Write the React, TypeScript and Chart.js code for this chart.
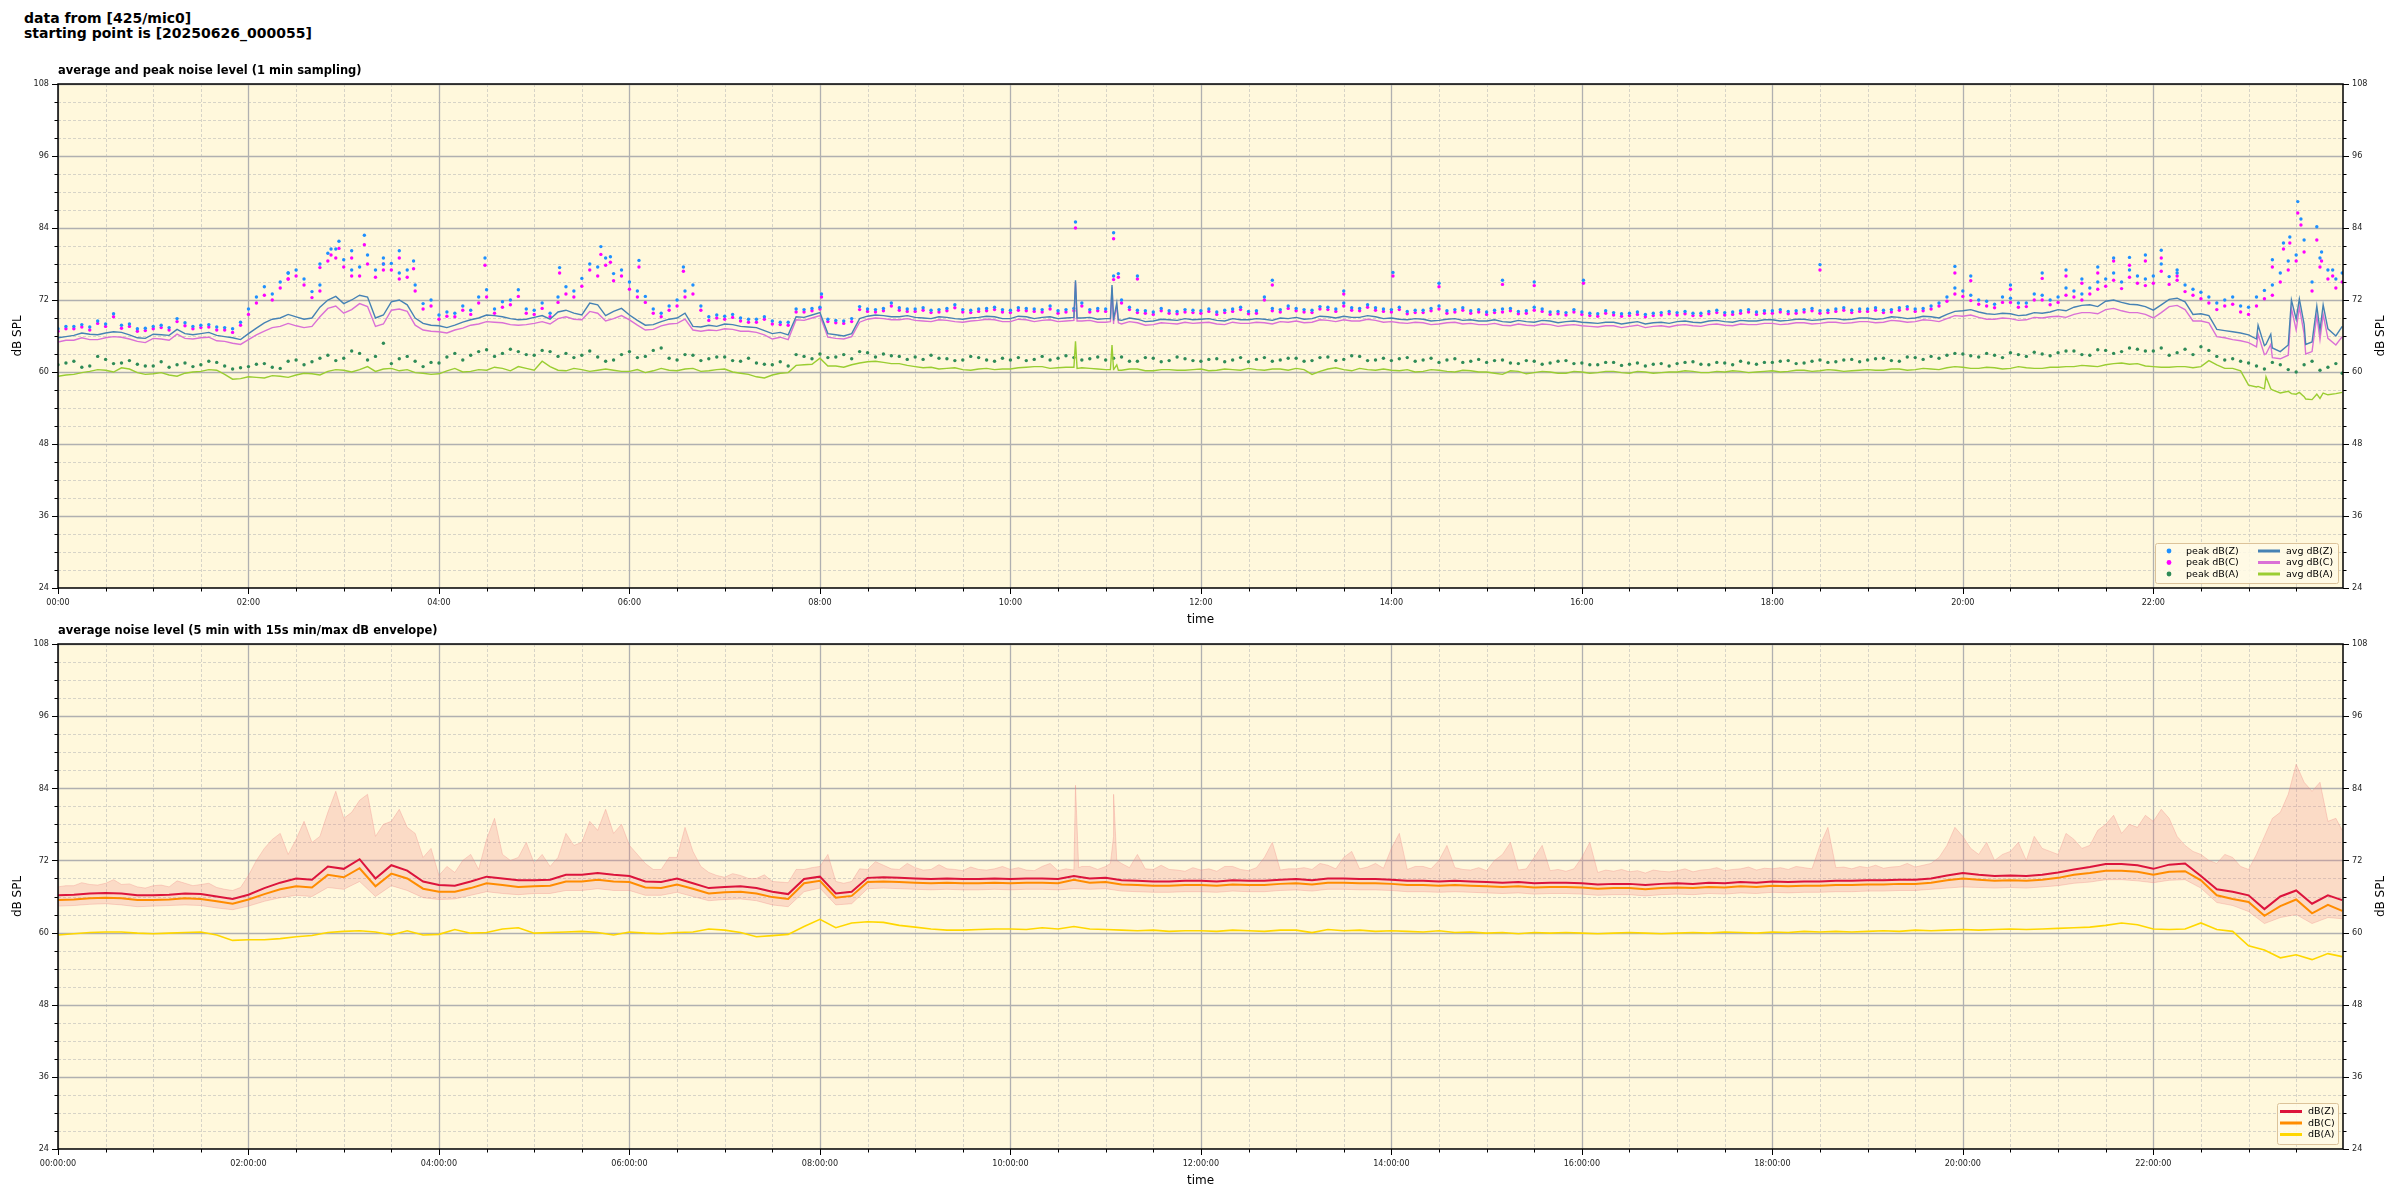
import { useEffect, useRef } from 'react';
import { Chart, registerables } from 'chart.js';

Chart.register(...registerables);

// ---------- sampling grid (minutes since 00:00) ----------
// "grid" arrays: samples at hh:m0 (last one at 23:59); "mid" arrays: samples at hh:m5
const STEP = 10;
const LAST_MIN = 1439;
const X_MAX = 1439.5;

// ---------- top chart: 1-minute average levels ----------
const avgZ = [
  65.7, 66.1, 66.3, 66.5, 66.6, 65.7,
  66.3, 66.1, 66.4, 66.4, 66.1, 65.7,
  66.4, 68.2, 69.0, 69.2, 69.0, 72.0,
  71.4, 72.8, 69.0, 71.7, 71.2, 68.1,
  67.7, 67.8, 68.7, 69.5, 69.2, 68.7,
  69.1, 68.8, 70.3, 69.5, 71.2, 70.1,
  69.5, 67.8, 68.4, 69.0, 67.6, 67.8,
  68.0, 67.6, 67.4, 66.4, 66.2, 69.1,
  69.9, 66.2, 66.4, 69.3, 69.4, 69.2,
  69.1, 68.9, 69.1, 68.8, 69.1, 69.2,
  68.9, 69.2, 69.1, 68.9, 69.1, 69.1,
  68.9, 68.6, 68.8, 68.5, 68.7, 68.9,
  68.8, 68.6, 68.9, 68.7, 68.8, 69.0,
  69.1, 68.9, 69.2, 69.3, 69.1, 69.2,
  69.0, 68.7, 68.8, 68.6, 68.9, 68.7,
  68.5, 68.4, 68.6, 68.3, 68.5, 68.4,
  68.3, 68.1, 68.3, 68.2, 68.0, 68.3,
  68.4, 68.3, 68.5, 68.4, 68.6, 68.5,
  68.7, 68.6, 68.8, 68.7, 68.9, 68.8,
  69.0, 68.9, 69.1, 69.0, 69.2, 69.6,
  70.2, 70.0, 69.6, 69.7, 69.5, 69.8,
  70.4, 70.8, 71.2, 71.8, 71.6, 71.2,
  70.3, 72.1, 71.7, 69.7, 67.1, 66.7,
  66.2, 64.4, 63.4, 68.8, 65.0, 67.2,
  67.6,
];
const avgZMid = [
  65.9, 66.5, 66.2, 66.7, 66.2, 65.6,
  66.2, 67.1, 66.2, 66.6, 65.9, 65.4,
  67.3, 68.8, 69.6, 68.8, 70.8, 72.6,
  72.0, 72.5, 69.5, 72.0, 69.0, 67.8,
  67.4, 68.3, 69.0, 69.4, 68.9, 68.8,
  69.4, 70.0, 69.8, 71.5, 69.4, 70.6,
  68.6, 67.9, 68.8, 69.8, 67.5, 67.6,
  67.9, 67.5, 66.9, 66.6, 69.2, 69.5,
  66.4, 66.0, 68.9, 69.5, 69.2, 69.4,
  69.0, 69.2, 68.9, 69.0, 69.3, 68.9,
  69.3, 68.9, 69.2, 69.0, 69.0, 68.8,
  68.6, 69.0, 68.4, 68.8, 68.6, 68.7,
  68.9, 68.5, 68.7, 68.9, 68.6, 68.9,
  68.8, 69.3, 69.0, 69.1, 69.4, 68.9,
  68.8, 68.9, 68.5, 68.8, 68.6, 68.5,
  68.7, 68.3, 68.4, 68.6, 68.2, 68.5,
  68.2, 68.3, 68.0, 68.4, 68.2, 68.1,
  68.5, 68.2, 68.6, 68.3, 68.5, 68.7,
  68.5, 68.8, 68.6, 68.9, 68.7, 69.0,
  68.8, 69.2, 68.9, 69.3, 69.0, 70.1,
  70.4, 69.7, 69.8, 69.4, 69.9, 70.0,
  70.2, 71.1, 70.9, 72.0, 71.3, 70.9,
  71.2, 72.3, 69.6, 69.4, 66.9, 66.5,
  65.5, 64.0, 64.5, 68.0, 67.0, 66.0,
];
const avgC = [
  65.0, 65.3, 65.4, 65.7, 65.8, 65.1,
  65.6, 65.3, 65.6, 65.7, 65.2, 64.8,
  65.4, 66.8, 67.6, 67.7, 67.6, 70.6,
  69.8, 71.4, 67.6, 70.3, 70.1, 67.0,
  66.7, 67.0, 67.8, 68.4, 68.2, 67.8,
  68.1, 68.0, 69.2, 68.7, 69.8, 68.9,
  68.7, 67.0, 67.7, 68.1, 67.0, 67.0,
  67.2, 66.8, 66.6, 65.5, 65.4, 68.6,
  69.4, 65.6, 65.9, 68.8, 68.9, 68.7,
  68.6, 68.4, 68.6, 68.3, 68.6, 68.7,
  68.4, 68.7, 68.6, 68.4, 68.6, 68.6,
  68.3, 68.0, 68.2, 67.9, 68.1, 68.3,
  68.2, 68.0, 68.3, 68.1, 68.2, 68.4,
  68.5, 68.3, 68.6, 68.7, 68.5, 68.6,
  68.4, 68.1, 68.2, 68.0, 68.3, 68.1,
  67.9, 67.8, 68.0, 67.7, 67.9, 67.8,
  67.7, 67.5, 67.7, 67.6, 67.4, 67.7,
  67.8, 67.7, 67.9, 67.8, 68.0, 67.9,
  68.1, 68.0, 68.2, 68.1, 68.3, 68.2,
  68.4, 68.3, 68.5, 68.4, 68.6, 68.9,
  69.3, 69.1, 68.8, 68.9, 68.7, 69.0,
  69.3, 69.6, 69.9, 70.4, 70.2, 69.9,
  69.0, 70.9, 70.4, 68.5, 65.9, 65.4,
  64.9, 62.9, 62.2, 67.0, 63.4, 65.6,
  65.9,
];
const avgCMid = [
  65.3, 65.7, 65.4, 65.9, 65.5, 64.9,
  65.5, 66.3, 65.5, 65.8, 65.1, 64.6,
  66.2, 67.4, 68.1, 67.4, 69.2, 71.0,
  70.4, 70.9, 68.0, 70.5, 67.8, 66.8,
  66.5, 67.3, 68.0, 68.3, 67.9, 67.9,
  68.4, 68.9, 68.8, 70.1, 68.5, 69.4,
  67.8, 67.1, 68.0, 68.8, 66.8, 66.9,
  67.1, 66.8, 66.2, 65.8, 68.7, 69.0,
  65.8, 65.5, 68.3, 69.0, 68.7, 68.9,
  68.5, 68.7, 68.4, 68.5, 68.8, 68.4,
  68.8, 68.4, 68.7, 68.5, 68.5, 68.3,
  68.0, 68.4, 67.8, 68.2, 68.0, 68.1,
  68.3, 67.9, 68.1, 68.3, 68.0, 68.3,
  68.2, 68.7, 68.4, 68.5, 68.8, 68.3,
  68.2, 68.3, 67.9, 68.2, 68.0, 67.9,
  68.1, 67.7, 67.8, 68.0, 67.6, 67.9,
  67.6, 67.7, 67.4, 67.8, 67.6, 67.5,
  67.9, 67.6, 68.0, 67.7, 67.9, 68.1,
  67.9, 68.2, 68.0, 68.3, 68.1, 68.4,
  68.2, 68.6, 68.3, 68.7, 68.4, 69.4,
  69.5, 68.8, 69.0, 68.6, 69.1, 69.2,
  69.1, 69.9, 69.7, 70.6, 69.9, 69.6,
  69.9, 71.1, 68.5, 68.2, 65.7, 65.2,
  64.2, 62.4, 62.8, 66.4, 65.4, 64.5,
];
const avgA = [
  59.3, 59.6, 60.1, 60.3, 60.7, 59.9,
  59.7, 59.5, 59.8, 60.1, 60.3, 58.8,
  59.2, 59.0, 59.3, 59.5, 59.7, 60.1,
  60.3, 60.4, 60.1, 60.6, 60.4, 59.8,
  59.7, 60.6, 60.1, 60.3, 60.6, 60.9,
  60.3, 60.9, 60.2, 60.4, 60.3, 60.3,
  60.1, 59.9, 60.6, 60.2, 60.6, 60.2,
  60.5, 59.8, 59.2, 59.5, 59.9, 61.2,
  62.3, 61.0, 61.2, 61.7, 61.6, 61.4,
  60.9, 60.8, 60.6, 60.4, 60.5, 60.4,
  60.5, 60.8, 60.9, 60.7, 60.8, 60.6,
  60.4, 60.3, 60.5, 60.2, 60.4, 60.3,
  60.5, 60.3, 60.4, 60.6, 60.3, 60.5,
  60.6, 59.6, 60.5, 60.4, 60.6, 60.3,
  60.3, 60.4, 60.1, 60.3, 60.0, 60.2,
  60.0, 59.6, 60.1, 59.9, 60.0, 59.8,
  60.0, 59.9, 60.1, 59.8, 60.0, 59.9,
  60.0, 60.1, 59.9, 60.0, 60.1, 60.0,
  60.2, 60.1, 60.3, 60.2, 60.3, 60.2,
  60.4, 60.3, 60.5, 60.4, 60.5, 60.7,
  60.8, 60.6, 60.7, 60.6, 60.7, 60.6,
  60.8, 60.9, 61.0, 61.2, 61.5, 61.4,
  60.9, 60.8, 60.9, 60.9, 61.2, 60.6,
  57.8, 57.2, 56.5, 56.3, 55.4, 56.2,
  56.6,
];
const avgAMid = [
  59.5, 59.9, 60.4, 60.0, 60.5, 59.6,
  59.9, 59.3, 60.0, 60.4, 59.6, 58.9,
  59.1, 59.4, 59.1, 59.8, 59.5, 60.4,
  60.0, 60.9, 60.5, 60.2, 59.9, 59.6,
  60.2, 60.0, 60.4, 60.8, 60.2, 60.6,
  61.8, 60.3, 60.6, 60.1, 60.5, 60.1,
  60.4, 60.2, 60.3, 60.5, 60.1, 60.4,
  60.0, 59.6, 59.0, 59.8, 61.1, 61.3,
  61.0, 60.8, 61.5, 61.8, 61.4, 61.1,
  60.7, 60.5, 60.7, 60.3, 60.6, 60.5,
  60.7, 60.9, 60.6, 60.8, 60.7, 60.5,
  60.3, 60.5, 60.2, 60.4, 60.3, 60.4,
  60.2, 60.5, 60.3, 60.4, 60.5, 60.3,
  60.4, 60.1, 60.7, 60.2, 60.4, 60.5,
  60.2, 60.0, 60.4, 60.1, 60.3, 60.0,
  59.8, 60.2, 59.7, 60.1, 59.8, 60.1,
  59.8, 60.1, 59.9, 60.1, 59.8, 60.0,
  60.2, 59.9, 60.1, 60.2, 59.9, 60.1,
  60.0, 60.3, 60.1, 60.4, 60.1, 60.3,
  60.3, 60.5, 60.3, 60.6, 60.4, 60.9,
  60.6, 60.8, 60.5, 60.9, 60.6, 60.8,
  60.9, 61.1, 60.9, 61.4, 61.3, 61.0,
  60.8, 60.9, 60.7, 61.9, 60.6, 60.2,
  57.5, 57.0, 56.8, 55.9, 55.6, 56.4,
];
// short spikes of the 1-minute averages (minute, Z, C, A)
const spikeMin = [641, 642, 663, 664, 665, 667, 668, 1386, 1391, 1394, 1407, 1412, 1416, 1423, 1427];
const spikeZ = [75.3, 69.0, 68.9, 74.5, 68.8, 71.5, 68.7, 67.8, 64.6, 66.3, 72.0, 72.2, 64.6, 71.0, 71.2];
const spikeC = [75.0, 68.5, 68.4, 74.1, 68.3, 71.0, 68.2, 66.3, 63.0, 64.6, 70.6, 70.8, 63.0, 69.4, 69.6];
const spikeA = [65.1, 60.6, 60.4, 64.5, 60.4, 61.2, 60.3, 57.6, 59.2, 57.2, 56.4, 56.6, 55.5, 56.3, 56.5];

// ---------- top chart: peak levels ----------
const peakZ = [
  67.2, 67.6, 67.5, 68.0, 67.8, 67.2,
  67.6, 67.4, 68.2, 67.8, 67.5, 67.2,
  70.5, 74.2, 75.0, 77.0, 73.4, 79.8,
  78.7, 77.5, 77.0, 78.1, 77.0, 71.4,
  69.5, 69.8, 70.3, 73.7, 71.7, 73.7,
  70.3, 69.8, 74.2, 75.6, 77.5, 76.4,
  75.0, 72.6, 69.8, 72.0, 74.5, 69.2,
  69.3, 69.0, 68.8, 68.5, 68.3, 70.4,
  70.8, 68.6, 68.9, 70.5, 70.6, 70.7,
  70.5, 70.3, 70.6, 70.4, 70.5, 70.8,
  70.3, 70.6, 70.4, 70.2, 70.6, 70.4,
  70.5, 72.0, 70.3, 70.0, 70.2, 70.4,
  70.2, 70.0, 70.5, 70.1, 72.5, 70.4,
  70.6, 70.3, 70.8, 71.5, 70.6, 70.7,
  70.4, 70.1, 70.3, 71.0, 70.4, 70.2,
  70.0, 70.5, 70.1, 70.8, 70.0, 69.9,
  70.0, 69.7, 69.9, 69.8, 69.6, 69.9,
  69.9, 69.8, 70.1, 69.9, 70.2, 70.0,
  70.2, 70.1, 70.4, 70.2, 70.5, 70.3,
  70.5, 70.3, 70.7, 70.5, 71.0, 72.5,
  73.5, 72.0, 71.3, 72.3, 71.5, 72.8,
  72.5, 73.5, 74.0, 75.5, 75.0, 76.0,
  76.0, 75.9, 74.5, 73.3, 71.5, 72.5,
  70.8, 73.6, 76.5, 79.5, 75.0, 77.0,
  76.5,
];
const peakZMid = [
  67.6, 67.9, 68.5, 69.7, 68.0, 67.3,
  67.8, 68.9, 67.6, 67.9, 67.4, 68.3,
  72.5, 73.0, 76.5, 75.5, 74.5, 80.5,
  77.0, 79.5, 78.0, 76.5, 74.5, 72.0,
  70.0, 71.0, 72.5, 70.5, 72.0, 70.5,
  71.5, 72.5, 73.5, 78.0, 79.0, 77.0,
  73.5, 70.5, 71.0, 73.5, 71.0, 69.5,
  69.6, 68.8, 69.2, 68.3, 70.5, 70.6,
  68.8, 68.5, 70.9, 70.4, 71.5, 70.5,
  70.7, 70.4, 71.2, 70.3, 70.6, 70.4,
  70.7, 70.5, 71.0, 70.4, 71.5, 70.6,
  76.0, 70.8, 70.2, 70.6, 70.1, 70.3,
  70.5, 70.3, 70.8, 70.2, 70.6, 71.0,
  70.4, 70.9, 70.5, 70.7, 71.2, 70.5,
  70.8, 70.3, 70.6, 70.2, 70.7, 70.4,
  70.3, 70.6, 70.2, 70.5, 70.1, 70.4,
  69.8, 70.2, 69.7, 70.0, 69.8, 70.1,
  70.1, 69.8, 70.3, 70.0, 70.4, 70.2,
  70.4, 70.2, 70.6, 70.3, 70.7, 70.5,
  70.7, 70.4, 70.9, 70.6, 71.5, 74.0,
  72.8, 71.8, 72.5, 71.5, 73.0, 72.0,
  74.0, 73.0, 75.0, 76.5, 77.0, 75.5,
  78.0, 76.5, 73.8, 72.5, 72.0, 71.0,
  72.5, 74.5, 78.5, 82.0, 79.0, 75.5,
];
const peakC = [
  66.8, 67.2, 67.0, 67.6, 67.3, 66.8,
  67.2, 67.0, 67.7, 67.4, 67.0, 66.6,
  69.6, 72.8, 74.0, 76.0, 72.4, 78.5,
  77.5, 76.0, 75.8, 77.0, 75.8, 70.5,
  68.8, 69.2, 69.6, 72.5, 70.8, 72.6,
  69.6, 69.2, 73.0, 74.3, 76.0, 75.2,
  73.8, 71.6, 69.2, 71.0, 73.0, 68.6,
  68.8, 68.5, 68.3, 68.0, 67.8, 70.0,
  70.5, 68.2, 68.4, 70.1, 70.2, 70.3,
  70.1, 69.9, 70.2, 70.0, 70.1, 70.4,
  69.9, 70.2, 70.0, 69.8, 70.2, 70.0,
  70.1, 71.5, 69.9, 69.6, 69.8, 70.0,
  69.8, 69.6, 70.1, 69.7, 72.0, 70.0,
  70.2, 69.9, 70.4, 71.0, 70.2, 70.3,
  70.0, 69.7, 69.9, 70.5, 70.0, 69.8,
  69.6, 70.0, 69.7, 70.3, 69.6, 69.5,
  69.6, 69.3, 69.5, 69.4, 69.2, 69.5,
  69.5, 69.4, 69.7, 69.5, 69.8, 69.6,
  69.8, 69.7, 70.0, 69.8, 70.1, 69.9,
  70.1, 69.9, 70.3, 70.1, 70.5, 71.8,
  72.6, 71.3, 70.7, 71.6, 70.9, 72.0,
  71.6, 72.5, 73.0, 74.3, 73.9, 74.8,
  74.8, 74.6, 73.4, 72.2, 70.4, 71.3,
  69.6, 72.2, 75.0, 78.5, 73.5, 75.5,
  75.0,
];
const peakCMid = [
  67.2, 67.5, 68.1, 69.2, 67.6, 66.9,
  67.4, 68.4, 67.2, 67.5, 67.0, 67.8,
  71.5, 72.0, 75.5, 74.5, 73.5, 79.0,
  76.0, 78.0, 77.0, 75.5, 73.5, 71.0,
  69.3, 70.3, 71.5, 69.8, 71.2, 69.8,
  70.6, 71.6, 72.5, 77.0, 77.8, 76.0,
  72.5, 69.8, 70.3, 72.5, 70.3, 69.0,
  69.1, 68.3, 68.8, 67.9, 70.0, 70.2,
  68.4, 68.1, 70.4, 70.0, 71.0, 70.1,
  70.3, 70.0, 70.7, 69.9, 70.2, 70.0,
  70.3, 70.1, 70.5, 70.0, 71.0, 70.2,
  75.4, 70.4, 69.8, 70.2, 69.7, 69.9,
  70.1, 69.9, 70.4, 69.8, 70.2, 70.6,
  70.0, 70.5, 70.1, 70.3, 70.8, 70.1,
  70.4, 69.9, 70.2, 69.8, 70.3, 70.0,
  69.9, 70.2, 69.8, 70.1, 69.7, 70.0,
  69.4, 69.8, 69.3, 69.6, 69.4, 69.7,
  69.7, 69.4, 69.9, 69.6, 70.0, 69.8,
  70.0, 69.8, 70.2, 69.9, 70.3, 70.1,
  70.3, 70.0, 70.5, 70.2, 71.0, 73.0,
  71.9, 71.0, 71.6, 70.8, 72.0, 71.2,
  72.8, 72.0, 73.8, 75.3, 75.8, 74.4,
  76.8, 75.3, 72.8, 71.5, 71.0, 70.0,
  71.0, 72.8, 77.0, 80.0, 77.5, 74.0,
];
const peakA = [
  61.2, 61.8, 61.0, 62.1, 61.5, 61.3,
  61.0, 60.8, 61.5, 61.2, 61.6, 60.5,
  60.9, 61.4, 60.6, 62.0, 61.7, 62.8,
  62.3, 63.1, 62.6, 61.4, 62.6, 60.9,
  61.5, 63.1, 62.8, 63.7, 63.1, 63.4,
  62.8, 63.4, 63.1, 62.8, 62.5, 62.0,
  63.4, 62.6, 64.0, 62.0, 62.8, 62.2,
  62.5, 61.8, 61.5, 61.2, 61.0, 62.6,
  63.0, 62.5, 62.2, 63.2, 63.0, 62.6,
  62.5, 62.8, 62.2, 62.0, 62.4, 61.8,
  62.0, 61.9, 62.6, 62.3, 62.4, 62.2,
  62.0, 62.5, 61.8, 62.3, 61.9, 62.2,
  61.8, 62.2, 62.0, 61.7, 62.4, 62.0,
  62.3, 61.9, 62.5, 62.1, 62.6, 62.0,
  61.9, 62.4, 62.0, 61.6, 62.2, 61.8,
  61.6, 62.0, 61.4, 61.8, 61.5, 61.9,
  61.5, 61.2, 61.6, 61.3, 61.0, 61.4,
  61.4, 61.7, 61.2, 61.5, 61.8, 61.3,
  61.6, 61.9, 61.5, 62.0, 61.7, 62.1,
  62.0, 62.3, 61.8, 62.4, 62.6, 62.8,
  63.0, 62.5, 62.8, 63.2, 62.6, 63.0,
  63.2, 63.5, 62.8, 63.6, 63.4, 63.8,
  63.5, 62.8, 63.8, 64.2, 62.6, 62.2,
  61.5, 60.5, 61.2, 60.0, 61.8, 60.8,
  59.8,
];
const peakAMid = [
  61.5, 60.8, 62.6, 61.4, 61.9, 61.0,
  61.7, 61.2, 60.9, 61.8, 61.0, 60.7,
  61.3, 60.8, 61.8, 61.2, 62.3, 61.9,
  63.5, 62.0, 64.8, 62.2, 61.8, 61.6,
  62.5, 62.0, 63.4, 62.6, 63.8, 62.9,
  63.6, 62.6, 62.4, 63.5, 61.8, 62.9,
  62.4, 63.6, 62.3, 62.9, 61.9, 62.5,
  61.9, 62.3, 61.3, 61.7, 62.9, 62.2,
  62.4, 62.9, 63.4, 62.5, 62.7, 62.1,
  62.1, 62.3, 61.9, 62.6, 62.0, 62.3,
  62.4, 62.1, 62.0, 62.7, 62.0, 62.5,
  62.3, 61.8, 62.4, 61.7, 62.5, 61.9,
  62.1, 61.7, 62.4, 62.1, 61.8, 62.3,
  61.8, 62.4, 61.9, 62.7, 61.9, 62.3,
  62.2, 61.8, 62.3, 62.0, 61.6, 62.1,
  61.9, 61.5, 61.9, 61.3, 61.8, 61.4,
  61.2, 61.6, 61.1, 61.5, 61.3, 61.0,
  61.6, 61.3, 61.6, 61.2, 61.5, 61.6,
  61.8, 61.4, 61.8, 61.6, 62.0, 61.7,
  62.2, 61.9, 62.5, 62.1, 62.3, 63.1,
  62.7, 63.1, 62.4, 62.9, 63.3, 62.7,
  63.5, 62.9, 63.7, 63.1, 64.0, 63.5,
  64.0, 63.2, 62.9, 63.6, 62.0, 61.8,
  61.0, 61.6, 60.4, 61.2, 60.3, 61.4,
];
// isolated high peaks (minute, Z, C)
const peakOutMin = [145, 165, 172, 177, 185, 193, 205, 215, 224, 269, 316, 342, 348, 366, 394, 481, 641, 665, 668, 680, 765, 810, 841, 870, 910, 930, 961, 1110, 1195, 1205, 1230, 1250, 1265, 1275, 1285, 1295, 1305, 1315, 1325, 1335, 1395, 1402, 1406, 1411, 1413, 1423, 1426, 1433];
const peakOutZ = [76.5, 78.0, 80.5, 81.8, 80.2, 82.8, 79.0, 80.2, 78.5, 79.0, 77.4, 80.9, 79.2, 78.6, 77.5, 73.0, 85.0, 83.2, 76.4, 76.0, 75.3, 73.5, 76.6, 74.8, 75.3, 75.0, 75.3, 77.9, 77.6, 76.0, 74.5, 76.5, 77.0, 75.5, 77.5, 79.0, 79.1, 79.5, 80.3, 77.0, 78.7, 81.5, 82.5, 88.4, 85.5, 84.2, 80.0, 77.0];
const peakOutC = [75.5, 77.4, 79.5, 80.6, 79.0, 81.2, 78.0, 79.0, 77.2, 77.8, 76.5, 79.6, 78.3, 77.5, 76.8, 72.5, 84.0, 82.2, 75.8, 75.5, 74.5, 73.0, 76.0, 74.2, 74.6, 74.4, 74.8, 77.0, 76.5, 75.2, 73.8, 75.6, 76.0, 74.8, 76.5, 78.5, 77.8, 78.5, 79.0, 76.0, 77.5, 80.5, 81.5, 86.5, 84.5, 82.0, 78.5, 76.0];

// ---------- bottom chart: 5-minute averages ----------
const botZ = [
  66.2, 66.3, 66.5, 66.6, 66.5, 66.2,
  66.2, 66.3, 66.5, 66.4, 66.0, 65.6,
  66.3, 67.4, 68.3, 69.0, 68.8, 71.0,
  70.6, 72.2, 69.0, 71.2, 70.3, 68.5,
  67.9, 67.8, 68.5, 69.3, 69.0, 68.7,
  68.7, 68.8, 69.6, 69.6, 69.9, 69.6,
  69.4, 68.5, 68.4, 69.0, 68.2, 67.4,
  67.6, 67.7, 67.4, 66.8, 66.4, 68.9,
  69.3, 66.5, 66.8, 69.1, 69.2, 69.1,
  69.0, 68.9, 69.0, 68.9, 68.9, 69.0,
  68.9, 69.0, 69.0, 68.9, 69.4, 69.0,
  69.1, 68.7, 68.6, 68.5, 68.5, 68.6,
  68.6, 68.5, 68.7, 68.6, 68.6, 68.8,
  68.9, 68.7, 69.0, 69.0, 68.9, 68.9,
  68.8, 68.6, 68.6, 68.5, 68.6, 68.5,
  68.4, 68.3, 68.4, 68.2, 68.3, 68.3,
  68.2, 68.0, 68.1, 68.1, 67.9, 68.1,
  68.2, 68.1, 68.3, 68.2, 68.4, 68.3,
  68.5, 68.4, 68.5, 68.5, 68.6, 68.6,
  68.7, 68.7, 68.8, 68.8, 69.0, 69.5,
  69.9, 69.6, 69.4, 69.5, 69.4, 69.6,
  70.0, 70.5, 70.9, 71.4, 71.4, 71.2,
  70.6, 71.3, 71.5, 69.4, 67.2, 66.8,
  66.2, 63.9, 66.0, 67.0, 64.8, 66.2,
  65.4,
];
const botC = [
  65.4, 65.5, 65.7, 65.8, 65.7, 65.4,
  65.4, 65.5, 65.7, 65.6, 65.2, 64.8,
  65.5, 66.4, 67.2, 67.7, 67.5, 69.6,
  69.2, 70.7, 67.7, 69.8, 69.0, 67.3,
  66.8, 66.8, 67.4, 68.2, 67.9, 67.6,
  67.7, 67.8, 68.5, 68.5, 68.8, 68.5,
  68.4, 67.5, 67.4, 68.0, 67.3, 66.5,
  66.7, 66.8, 66.5, 65.9, 65.6, 68.2,
  68.6, 65.8, 66.1, 68.4, 68.5, 68.4,
  68.3, 68.2, 68.3, 68.2, 68.2, 68.3,
  68.2, 68.3, 68.3, 68.2, 68.8, 68.3,
  68.4, 68.0, 67.9, 67.8, 67.8, 67.9,
  67.9, 67.8, 68.0, 67.9, 67.9, 68.1,
  68.2, 68.0, 68.3, 68.3, 68.2, 68.2,
  68.1, 67.9, 67.9, 67.8, 67.9, 67.8,
  67.7, 67.6, 67.7, 67.5, 67.6, 67.6,
  67.5, 67.3, 67.4, 67.4, 67.2, 67.4,
  67.5, 67.4, 67.6, 67.5, 67.7, 67.6,
  67.8, 67.7, 67.8, 67.8, 67.9, 67.9,
  68.0, 68.0, 68.1, 68.1, 68.3, 68.7,
  69.0, 68.8, 68.6, 68.7, 68.6, 68.8,
  69.1, 69.6, 69.9, 70.3, 70.3, 70.1,
  69.6, 70.1, 70.2, 68.7, 66.2, 65.6,
  65.1, 62.8, 64.4, 65.5, 63.2, 64.6,
  63.6,
];
const botA = [
  59.6, 59.8, 60.0, 60.1, 60.1, 59.9,
  59.8, 59.9, 60.0, 60.1, 59.6, 58.7,
  58.8, 58.8, 59.0, 59.3, 59.5, 60.0,
  60.2, 60.3, 60.1, 59.6, 60.3, 59.6,
  59.7, 60.5, 59.9, 60.0, 60.6, 60.8,
  59.9, 60.0, 60.1, 60.2, 60.0, 59.6,
  60.1, 59.9, 59.8, 60.0, 60.1, 60.6,
  60.4, 60.0, 59.3, 59.5, 59.7, 61.0,
  62.2, 60.8, 61.6, 61.8, 61.7, 61.2,
  60.9, 60.6, 60.4, 60.4, 60.5, 60.6,
  60.6, 60.5, 60.8, 60.6, 61.0, 60.6,
  60.5, 60.4, 60.3, 60.4, 60.2, 60.3,
  60.3, 60.2, 60.4, 60.3, 60.2, 60.4,
  60.4, 60.0, 60.5, 60.3, 60.4, 60.2,
  60.3, 60.2, 60.1, 60.3, 60.0, 60.1,
  59.9, 60.0, 59.8, 60.0, 59.9, 60.0,
  59.9, 59.8, 59.9, 60.0, 59.9, 59.8,
  59.9, 60.0, 59.9, 60.1, 60.0, 59.9,
  60.1, 60.0, 60.2, 60.1, 60.2, 60.1,
  60.2, 60.3, 60.2, 60.4, 60.3, 60.4,
  60.5, 60.4, 60.5, 60.6, 60.5, 60.6,
  60.7, 60.8, 60.9, 61.2, 61.6, 61.3,
  60.6, 60.5, 60.6, 61.6, 60.5, 60.2,
  57.8, 57.1, 55.8, 56.3, 55.5, 56.5,
  56.0,
];
// 15 s min/max envelope
const envMax = [
  67.6, 67.8, 68.0, 68.2, 68.0, 67.6,
  67.8, 67.6, 68.2, 68.0, 67.5, 67.0,
  69.5, 74.0, 76.5, 75.5, 75.0, 80.0,
  79.0, 82.0, 76.0, 78.5, 77.5, 72.5,
  69.5, 70.0, 73.0, 75.5, 73.0, 72.5,
  71.5, 71.0, 76.5, 75.0, 77.0, 76.5,
  74.5, 71.5, 70.5, 72.5, 73.5, 70.0,
  69.2, 69.5, 69.0, 68.5, 68.3, 70.5,
  71.0, 68.5, 68.5, 70.5, 71.2, 70.5,
  70.8, 70.5, 70.6, 70.3, 70.5, 70.6,
  70.5, 70.4, 71.0, 70.3, 70.4, 71.0,
  71.0, 71.5, 73.0, 70.5, 70.5, 70.2,
  70.4, 70.2, 71.0, 70.3, 72.5, 70.4,
  70.6, 70.5, 71.2, 72.5, 70.6, 71.5,
  74.0, 70.5, 71.0, 72.0, 70.8, 70.4,
  70.3, 73.0, 70.4, 72.5, 70.3, 70.2,
  72.5, 70.0, 70.2, 70.1, 69.9, 70.2,
  70.3, 70.1, 70.5, 70.3, 70.6, 70.4,
  70.6, 70.5, 70.8, 74.5, 70.8, 70.6,
  70.8, 70.7, 71.0, 70.9, 71.5, 74.5,
  76.0, 73.0, 72.0, 73.5, 72.0, 74.0,
  73.0, 75.5, 74.5, 78.0, 76.5, 77.5,
  78.5, 79.0, 74.5, 73.0, 71.5, 72.5,
  70.5, 76.0, 80.0, 88.0, 83.5, 78.5,
  77.0,
];
const envMaxMid = [
  67.8, 68.3, 67.9, 68.8, 68.1, 67.4,
  67.9, 68.6, 67.8, 68.2, 67.2, 67.5,
  72.0, 75.5, 73.0, 78.5, 76.0, 83.5,
  80.0, 83.0, 78.0, 80.5, 76.5, 74.0,
  71.0, 72.0, 70.5, 79.0, 72.0, 75.0,
  73.0, 72.5, 74.5, 78.5, 80.5, 78.0,
  73.0, 70.5, 72.5, 77.5, 71.0, 69.5,
  69.8, 69.0, 69.6, 68.4, 70.5, 70.8,
  73.0, 68.2, 70.6, 71.8, 70.6, 71.5,
  70.4, 71.3, 70.5, 70.9, 70.4, 71.0,
  70.8, 70.3, 71.5, 70.6, 71.0, 70.5,
  76.0, 70.8, 70.6, 71.2, 70.4, 70.8,
  70.6, 71.0, 70.5, 70.8, 75.0, 70.6,
  70.8, 71.5, 70.6, 73.5, 70.9, 70.7,
  76.5, 71.0, 70.6, 74.5, 70.5, 70.8,
  72.0, 75.0, 70.6, 74.5, 70.5, 70.6,
  75.0, 70.4, 70.5, 70.3, 70.4, 70.1,
  70.6, 70.4, 70.8, 70.5, 70.9, 70.7,
  70.8, 71.0, 70.6, 77.5, 70.9, 71.0,
  71.2, 70.9, 71.5, 71.2, 72.5, 77.5,
  74.0, 75.0, 73.0, 75.0, 76.0, 73.5,
  76.5, 74.0, 77.0, 79.5, 78.0, 79.5,
  80.5, 76.0, 73.5, 72.0, 73.0, 71.0,
  73.0, 79.0, 83.0, 85.0, 85.0, 79.0,
];
const envMin = [
  64.4, 64.5, 64.7, 64.8, 64.6, 64.3,
  64.4, 64.5, 64.6, 64.5, 64.1, 63.8,
  64.4, 65.2, 65.8, 66.2, 66.0, 67.5,
  67.2, 68.5, 66.0, 67.8, 67.0, 65.8,
  65.5, 65.6, 66.2, 66.8, 66.5, 66.3,
  66.5, 66.5, 67.0, 67.0, 67.3, 67.0,
  67.0, 66.2, 66.2, 66.7, 66.0, 65.3,
  65.5, 65.6, 65.3, 64.6, 64.3, 66.8,
  67.4, 64.6, 64.8, 67.3, 67.4, 67.3,
  67.2, 67.1, 67.2, 67.1, 67.1, 67.2,
  67.1, 67.2, 67.2, 67.1, 67.3, 67.2,
  67.3, 66.9, 66.8, 66.7, 66.7, 66.8,
  66.8, 66.7, 66.9, 66.8, 66.8, 67.0,
  67.1, 66.9, 67.2, 67.2, 67.1, 67.1,
  67.0, 66.8, 66.8, 66.7, 66.8, 66.7,
  66.6, 66.5, 66.6, 66.4, 66.5, 66.5,
  66.4, 66.2, 66.3, 66.3, 66.1, 66.3,
  66.4, 66.3, 66.5, 66.4, 66.6, 66.5,
  66.7, 66.6, 66.7, 66.7, 66.8, 66.8,
  66.9, 66.9, 67.0, 67.0, 67.2, 67.4,
  67.6, 67.5, 67.4, 67.5, 67.4, 67.6,
  67.8, 68.2, 68.4, 68.8, 68.8, 68.6,
  68.3, 68.7, 68.8, 67.4, 65.0, 64.5,
  63.5, 61.5, 62.5, 63.0, 61.5, 62.5,
  62.3,
];
const envSpikeMin = [641, 643, 663, 665, 667];
const envSpikeMax = [84.5, 70.8, 71.5, 83.0, 72.0];

// ---------- axes ----------
const X_TICKS = Array.from({ length: 48 }, (_, i) => i * 30);
const Y_TICKS = Array.from({ length: 29 }, (_, i) => 24 + i * 3);
const Y_MIN = 24;
const Y_MAX = 108;

const pad2 = (n: number) => String(n).padStart(2, '0');
const fmtHM = (m: number) => `${pad2(Math.floor(m / 60))}:${pad2(m % 60)}`;
const fmtHMS = (m: number) => `${fmtHM(m)}:00`;

type Pt = { x: number; y: number };
// grid samples at hh:m0 (+ final 23:59), optional mid samples at hh:m5, optional extra (minute, value) pairs
function toPoints(grid: number[], mid: number[] = [], extraT: number[] = [], extraV: number[] = []): Pt[] {
  const pts: Pt[] = grid.map((y, i) => ({ x: i === grid.length - 1 ? LAST_MIN : i * STEP, y }));
  mid.forEach((y, i) => pts.push({ x: i * STEP + STEP / 2, y }));
  extraT.forEach((x, i) => pts.push({ x, y: extraV[i] }));
  return pts.sort((p, q) => p.x - q.x);
}

const TICK_FONT = { family: "'DejaVu Sans Condensed', 'DejaVu Sans', sans-serif", size: 9 };
const FONT = "'DejaVu Sans', sans-serif";

function makeScales(fmt: (m: number) => string) {
  const yCommon = (pos: 'left' | 'right', w: number) => ({
    type: 'linear',
    position: pos,
    min: Y_MIN,
    max: Y_MAX,
    afterBuildTicks: (s: any) => {
      s.ticks = Y_TICKS.map((v) => ({ value: v }));
    },
    afterFit: (s: any) => {
      s.width = w;
    },
    ticks: {
      autoSkip: false,
      padding: 9,
      font: TICK_FONT,
      color: '#222',
      callback: (v: number) => (v % 12 === 0 ? String(v) : ''),
    },
    grid: { drawOnChartArea: false, drawTicks: false },
    border: { display: false },
  });
  return {
    x: {
      type: 'linear',
      min: 0,
      max: X_MAX,
      afterBuildTicks: (s: any) => {
        s.ticks = X_TICKS.map((v) => ({ value: v }));
      },
      afterFit: (s: any) => {
        s.height = 30;
      },
      ticks: {
        autoSkip: false,
        maxRotation: 0,
        minRotation: 0,
        padding: 9,
        font: TICK_FONT,
        color: '#222',
        callback: (v: number) => (v % 120 === 0 ? fmt(v) : ''),
      },
      grid: { drawOnChartArea: false, drawTicks: false },
      border: { display: false },
    },
    y: yCommon('left', 58),
    y2: yCommon('right', 57),
  };
}

type LegendEntry = { label: string; color: string; kind: 'dot' | 'line'; mx: number; tx: number; ry: number };

const framePlugin = {
  id: 'frame',
  beforeDraw(chart: any) {
    const { ctx, chartArea: a } = chart;
    ctx.save();
    ctx.fillStyle = '#fff8dc';
    ctx.fillRect(a.left, a.top, a.right - a.left, a.bottom - a.top);
    ctx.restore();
  },
  beforeDatasetsDraw(chart: any) {
    const { ctx, chartArea: a, scales } = chart;
    const xs = scales.x;
    const ys = scales.y;
    ctx.save();
    ctx.beginPath();
    ctx.rect(a.left, a.top, a.right - a.left, a.bottom - a.top);
    ctx.clip();
    ctx.setLineDash([3, 2]);
    ctx.strokeStyle = '#cdcac2';
    ctx.lineWidth = 0.8;
    ctx.beginPath();
    X_TICKS.filter((m) => m % 120 !== 0).forEach((m) => {
      const px = Math.round(xs.getPixelForValue(m)) + 0.5;
      ctx.moveTo(px, a.top);
      ctx.lineTo(px, a.bottom);
    });
    Y_TICKS.filter((v) => v % 12 !== 0).forEach((v) => {
      const py = Math.round(ys.getPixelForValue(v)) + 0.5;
      ctx.moveTo(a.left, py);
      ctx.lineTo(a.right, py);
    });
    ctx.stroke();
    ctx.setLineDash([]);
    ctx.strokeStyle = '#b0b0b0';
    ctx.lineWidth = 1.3;
    ctx.beginPath();
    X_TICKS.filter((m) => m % 120 === 0).forEach((m) => {
      const px = Math.round(xs.getPixelForValue(m)) + 0.5;
      ctx.moveTo(px, a.top);
      ctx.lineTo(px, a.bottom);
    });
    Y_TICKS.filter((v) => v % 12 === 0).forEach((v) => {
      const py = Math.round(ys.getPixelForValue(v)) + 0.5;
      ctx.moveTo(a.left, py);
      ctx.lineTo(a.right, py);
    });
    ctx.stroke();
    ctx.restore();
  },
  afterDatasetsDraw(chart: any, _args: any, opts: any) {
    const { ctx, chartArea: a, scales } = chart;
    const xs = scales.x;
    const ys = scales.y;
    ctx.save();
    ctx.strokeStyle = '#000';
    ctx.lineWidth = 1;
    ctx.beginPath();
    X_TICKS.forEach((m) => {
      const len = m % 120 === 0 ? 6 : 3.5;
      const px = Math.round(xs.getPixelForValue(m)) + 0.5;
      ctx.moveTo(px, a.bottom);
      ctx.lineTo(px, a.bottom + len);
    });
    Y_TICKS.forEach((v) => {
      const len = v % 12 === 0 ? 6 : 3.5;
      const py = Math.round(ys.getPixelForValue(v)) + 0.5;
      ctx.moveTo(a.left, py);
      ctx.lineTo(a.left - len, py);
      ctx.moveTo(a.right, py);
      ctx.lineTo(a.right + len, py);
    });
    ctx.stroke();
    ctx.lineWidth = 1.5;
    ctx.strokeRect(a.left, a.top, a.right - a.left, a.bottom - a.top);

    const lg = opts.legend;
    if (lg) {
      const bx = a.right - 5 - lg.w;
      const by = a.bottom - 5 - lg.h;
      ctx.beginPath();
      ctx.roundRect(bx + 0.5, by + 0.5, lg.w, lg.h, 2);
      ctx.fillStyle = 'rgba(255,250,230,0.85)';
      ctx.fill();
      ctx.strokeStyle = '#dcc39a';
      ctx.lineWidth = 1;
      ctx.stroke();
      ctx.font = `9.5px ${FONT}`;
      ctx.textBaseline = 'middle';
      ctx.textAlign = 'left';
      lg.entries.forEach((e: LegendEntry) => {
        const cy = by + e.ry;
        if (e.kind === 'dot') {
          ctx.fillStyle = e.color;
          ctx.beginPath();
          ctx.arc(bx + e.mx, cy, 2.4, 0, Math.PI * 2);
          ctx.fill();
        } else {
          ctx.strokeStyle = e.color;
          ctx.lineWidth = 3;
          ctx.beginPath();
          ctx.moveTo(bx + e.mx, cy);
          ctx.lineTo(bx + e.mx + 22, cy);
          ctx.stroke();
        }
        ctx.fillStyle = '#000';
        ctx.fillText(e.label, bx + e.tx, cy + 0.5);
      });
    }
    ctx.restore();
  },
  afterDraw(chart: any, _args: any, opts: any) {
    const { ctx, chartArea: a } = chart;
    ctx.save();
    ctx.fillStyle = '#000';
    ctx.font = `bold 11.5px ${FONT}`;
    ctx.textAlign = 'left';
    ctx.textBaseline = 'alphabetic';
    ctx.fillText(opts.title, a.left, a.top - 10);
    ctx.font = `12px ${FONT}`;
    ctx.textAlign = 'center';
    ctx.textBaseline = 'middle';
    ctx.fillText('time', (a.left + a.right) / 2, a.bottom + 32);
    const midY = (a.top + a.bottom) / 2;
    [18, 2381].forEach((x) => {
      ctx.save();
      ctx.translate(x, midY);
      ctx.rotate(-Math.PI / 2);
      ctx.fillText('dB SPL', 0, 0);
      ctx.restore();
    });
    ctx.restore();
  },
};

const BASE_OPTS = {
  responsive: false,
  animation: false,
  devicePixelRatio: 1,
  events: [],
  elements: { line: { tension: 0 } },
};

function topConfig(): any {
  const line = (label: string, pts: Pt[], color: string, order: number) => ({
    label,
    data: pts,
    borderColor: color,
    borderWidth: 1.4,
    pointRadius: 0,
    fill: false,
    order,
  });
  const dots = (label: string, pts: Pt[], color: string, order: number) => ({
    label,
    data: pts,
    showLine: false,
    pointRadius: 1.7,
    pointBorderWidth: 0,
    pointBackgroundColor: color,
    borderColor: color,
    order,
  });
  return {
    type: 'line',
    data: {
      datasets: [
        line('avg dB(Z)', toPoints(avgZ, avgZMid, spikeMin, spikeZ), '#4682b4', 0),
        line('avg dB(C)', toPoints(avgC, avgCMid, spikeMin, spikeC), '#da70d6', 1),
        line('avg dB(A)', toPoints(avgA, avgAMid, spikeMin, spikeA), '#9acd32', 2),
        dots('peak dB(Z)', toPoints(peakZ, peakZMid, peakOutMin, peakOutZ), '#1e90ff', 4),
        dots('peak dB(C)', toPoints(peakC, peakCMid, peakOutMin, peakOutC), '#ff00ff', 5),
        dots('peak dB(A)', toPoints(peakA, peakAMid), '#2e8b57', 6),
      ],
    },
    options: {
      ...BASE_OPTS,
      layout: { padding: { left: 0, right: 0, top: 44, bottom: 12 } },
      plugins: {
        legend: { display: false },
        tooltip: { enabled: false },
        frame: {
          title: 'average and peak noise level (1 min sampling)',
          legend: {
            w: 183,
            h: 40,
            entries: [
              { label: 'peak dB(Z)', color: '#1e90ff', kind: 'dot', mx: 14, tx: 31, ry: 8 },
              { label: 'peak dB(C)', color: '#ff00ff', kind: 'dot', mx: 14, tx: 31, ry: 19.5 },
              { label: 'peak dB(A)', color: '#2e8b57', kind: 'dot', mx: 14, tx: 31, ry: 31 },
              { label: 'avg dB(Z)', color: '#4682b4', kind: 'line', mx: 103, tx: 131, ry: 8 },
              { label: 'avg dB(C)', color: '#da70d6', kind: 'line', mx: 103, tx: 131, ry: 19.5 },
              { label: 'avg dB(A)', color: '#9acd32', kind: 'line', mx: 103, tx: 131, ry: 31 },
            ],
          },
        },
      },
      scales: makeScales(fmtHM),
    },
    plugins: [framePlugin],
  };
}

function botConfig(): any {
  const line = (label: string, vals: number[], color: string, width: number, order: number) => ({
    label,
    data: toPoints(vals),
    borderColor: color,
    borderWidth: width,
    pointRadius: 0,
    fill: false,
    order,
  });
  return {
    type: 'line',
    data: {
      datasets: [
        line('dB(Z)', botZ, '#dc143c', 2, 0),
        line('dB(C)', botC, '#ff8c00', 2, 1),
        line('dB(A)', botA, '#ffd700', 1.6, 2),
        {
          label: 'max',
          data: toPoints(envMax, envMaxMid, envSpikeMin, envSpikeMax),
          borderColor: 'rgba(240,128,128,0.3)',
          borderWidth: 1,
          backgroundColor: 'rgba(240,128,128,0.24)',
          pointRadius: 0,
          fill: '+1',
          order: 3,
        },
        {
          label: 'min',
          data: toPoints(envMin),
          borderColor: 'rgba(240,128,128,0.3)',
          borderWidth: 1,
          pointRadius: 0,
          fill: false,
          order: 4,
        },
      ],
    },
    options: {
      ...BASE_OPTS,
      layout: { padding: { left: 0, right: 0, top: 34, bottom: 21 } },
      plugins: {
        legend: { display: false },
        tooltip: { enabled: false },
        frame: {
          title: 'average noise level (5 min with 15s min/max dB envelope)',
          legend: {
            w: 61,
            h: 41,
            entries: [
              { label: 'dB(Z)', color: '#dc143c', kind: 'line', mx: 3, tx: 31, ry: 8.5 },
              { label: 'dB(C)', color: '#ff8c00', kind: 'line', mx: 3, tx: 31, ry: 20 },
              { label: 'dB(A)', color: '#ffd700', kind: 'line', mx: 3, tx: 31, ry: 31.5 },
            ],
          },
        },
      },
      scales: makeScales(fmtHMS),
    },
    plugins: [framePlugin],
  };
}

export default function App() {
  const topRef = useRef<HTMLCanvasElement>(null);
  const botRef = useRef<HTMLCanvasElement>(null);

  useEffect(() => {
    document.body.style.margin = '0';
    document.body.style.overflow = 'hidden';
    const c1 = new Chart(topRef.current as HTMLCanvasElement, topConfig());
    const c2 = new Chart(botRef.current as HTMLCanvasElement, botConfig());
    return () => {
      c1.destroy();
      c2.destroy();
    };
  }, []);

  return (
    <div style={{ position: 'relative', width: 2400, height: 1200, background: '#fff', overflow: 'hidden' }}>
      <div
        style={{
          position: 'absolute',
          left: 24,
          top: 11,
          font: `bold 14px ${FONT}`,
          lineHeight: '15px',
          whiteSpace: 'pre',
          color: '#000',
        }}
      >
        {'data from [425/mic0]\nstarting point is [20250626_000055]'}
      </div>
      <canvas
        ref={topRef}
        width={2400}
        height={590}
        style={{ position: 'absolute', left: 0, top: 40, width: 2400, height: 590 }}
      />
      <canvas
        ref={botRef}
        width={2400}
        height={590}
        style={{ position: 'absolute', left: 0, top: 610, width: 2400, height: 590 }}
      />
    </div>
  );
}
